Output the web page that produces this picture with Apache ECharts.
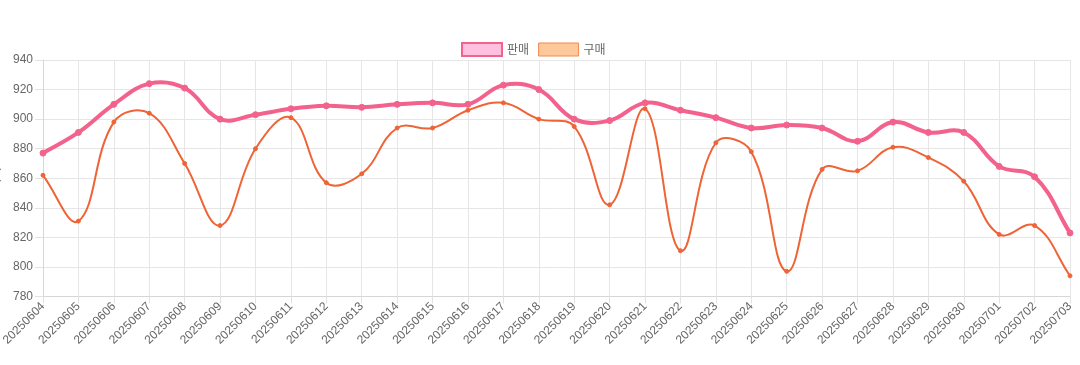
<!DOCTYPE html>
<html>
<head>
<meta charset="utf-8">
<script src="https://cdn.jsdelivr.net/npm/echarts@6/dist/echarts.min.js"></script>
<style>
html,body{margin:0;padding:0;background:#fff;}
#chart{width:1080px;height:365px;}
</style>
</head>
<body>
<div id="chart"></div>
<script>
var categories = ['20250604','20250605','20250606','20250607','20250608','20250609','20250610','20250611','20250612','20250613',
  '20250614','20250615','20250616','20250617','20250618','20250619','20250620','20250621','20250622','20250623',
  '20250624','20250625','20250626','20250627','20250628','20250629','20250630','20250701','20250702','20250703'];
var salesValues = [877,891,910,924,921,900,903,907,909,908,
  910,911,910,923,920,900,899,911,906,901,
  894,896,894,885,898,891,891,868,861,823];
var purchaseValues = [862,831,898,904,870,828,880,901,857,863,
  894,894,906,911,900,895,842,907,811,884,
  878,797,866,865,881,874,858,822,828,794];
var yTicks = {min:780, max:940, interval:20};

var SALES_COLOR = '#f2628c';
var PURCHASE_COLOR = '#ef6436';
var TENSION = 0.4;

// Cardinal-style spline segment (like Chart.js tension curves) through axis coords
function splineRenderer(values, color, width) {
  return function (params, api) {
    var i = params.dataIndex;
    var n = values.length;
    if (i >= n - 1) return null;
    function pt(j) {
      j = Math.max(0, Math.min(n - 1, j));
      return api.coord([j, values[j]]);
    }
    function cps(j) {
      var p = pt(j - 1), c = pt(j), nx = pt(j + 1);
      var d01 = Math.hypot(c[0] - p[0], c[1] - p[1]);
      var d12 = Math.hypot(nx[0] - c[0], nx[1] - c[1]);
      var tot = d01 + d12;
      var s01 = tot ? d01 / tot : 0, s12 = tot ? d12 / tot : 0;
      var fa = TENSION * s01, fb = TENSION * s12;
      return {
        prev: [c[0] - fa * (nx[0] - p[0]), c[1] - fa * (nx[1] - p[1])],
        next: [c[0] + fb * (nx[0] - p[0]), c[1] + fb * (nx[1] - p[1])]
      };
    }
    var a = pt(i), b = pt(i + 1);
    var ca = cps(i), cb = cps(i + 1);
    return {
      type: 'bezierCurve',
      shape: {x1: a[0], y1: a[1], x2: b[0], y2: b[1],
              cpx1: ca.next[0], cpy1: ca.next[1], cpx2: cb.prev[0], cpy2: cb.prev[1]},
      style: {stroke: color, lineWidth: width, fill: null, lineCap: 'round', lineJoin: 'round'},
      silent: true
    };
  };
}

var chart = echarts.init(document.getElementById('chart'));
var font = '"Liberation Sans", Arial, sans-serif';
chart.setOption({
  animation:false,
  textStyle:{fontFamily:font},
  legend:{
    top:37, left:456,
    icon:'rect', itemWidth:40, itemHeight:13, itemGap:9,
    textStyle:{color:'#666', fontSize:12, fontFamily:'"Noto Sans CJK KR", sans-serif'},
    data:[
      {name:'판매', itemStyle:{color:'#ffc0e0', borderColor:'#f0648c', borderWidth:2}},
      {name:'구매', itemStyle:{color:'#ffc89a', borderColor:'#f08a50', borderWidth:1}}
    ]
  },
  grid:{left:43, right:10, top:60, bottom:68.5, containLabel:false, outerBoundsMode:'none'},
  xAxis:{
    type:'category', data:categories, boundaryGap:false,
    axisLine:{lineStyle:{color:'#d6d6d6'}},
    axisTick:{show:true, length:7, lineStyle:{color:'#e2e2e2'}},
    splitLine:{show:true, lineStyle:{color:'#e6e6e6'}},
    axisLabel:{rotate:45, color:'#666', fontSize:12, margin:8, interval:0, fontFamily:font}
  },
  yAxis:{
    type:'value', min:yTicks.min, max:yTicks.max, interval:yTicks.interval,
    name:'가격', nameLocation:'middle', nameGap:42, nameRotate:90,
    nameTextStyle:{color:'#666', fontSize:12, fontFamily:'"Noto Sans CJK KR", sans-serif'},
    axisLine:{show:true, lineStyle:{color:'#d6d6d6'}},
    axisTick:{show:true, length:8, lineStyle:{color:'#e2e2e2'}},
    splitLine:{show:true, lineStyle:{color:'#e6e6e6'}},
    axisLabel:{color:'#666', fontSize:12, margin:10, fontFamily:font}
  },
  series:[
    {
      name:'판매-curve', type:'custom', renderItem: splineRenderer(salesValues, SALES_COLOR, 4),
      data: salesValues.map(function(v, i){ return [i, v]; }), z:3, silent:true,
      encode:{x:0, y:1}
    },
    {
      name:'구매-curve', type:'custom', renderItem: splineRenderer(purchaseValues, PURCHASE_COLOR, 2),
      data: purchaseValues.map(function(v, i){ return [i, v]; }), z:2, silent:true,
      encode:{x:0, y:1}
    },
    {
      name:'판매', type:'line', data:salesValues, z:4,
      symbol:'circle', symbolSize:6, showSymbol:true,
      lineStyle:{width:0, opacity:0},
      itemStyle:{color:SALES_COLOR, borderColor:SALES_COLOR}
    },
    {
      name:'구매', type:'line', data:purchaseValues, z:3,
      symbol:'circle', symbolSize:4, showSymbol:true,
      lineStyle:{width:0, opacity:0},
      itemStyle:{color:PURCHASE_COLOR, borderColor:PURCHASE_COLOR}
    }
  ]
});
</script>
</body>
</html>
